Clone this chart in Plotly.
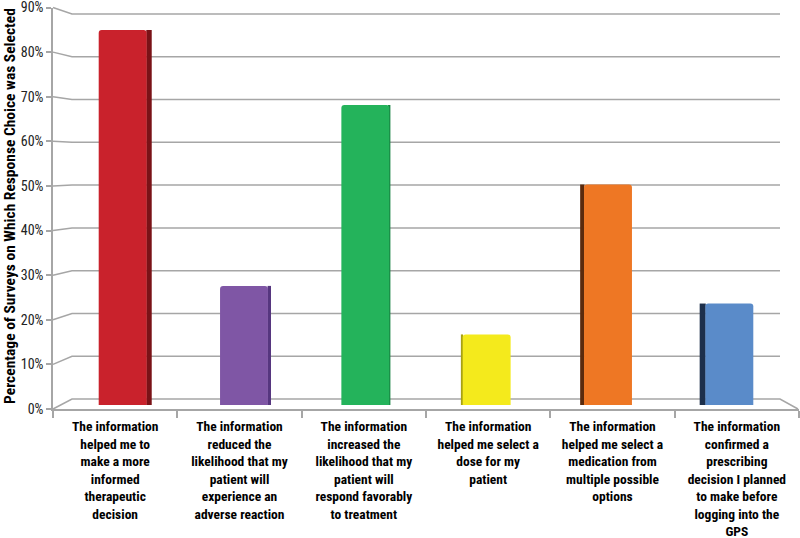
import plotly.graph_objects as go

categories = [
    "The information<br>helped me to<br>make a more<br>informed<br>therapeutic<br>decision",
    "The information<br>reduced the<br>likelihood that my<br>patient will<br>experience an<br>adverse reaction",
    "The information<br>increased the<br>likelihood that my<br>patient will<br>respond favorably<br>to treatment",
    "The information<br>helped me select a<br>dose for my<br>patient",
    "The information<br>helped me select a<br>medication from<br>multiple possible<br>options",
    "The information<br>confirmed a<br>prescribing<br>decision I planned<br>to make before<br>logging into the<br>GPS",
]
values = [85, 27, 68, 16, 50, 23]
y_ticks = [0, 10, 20, 30, 40, 50, 60, 70, 80, 90]
y_tick_labels = ["0%", "10%", "20%", "30%", "40%", "50%", "60%", "70%", "80%", "90%"]
y_title = "Percentage of Surveys on Which Response Choice was Selected"

# styles
face_colors = ["#C9222C", "#7F56A5", "#24B35B", "#F4EA1C", "#EE7724", "#5A8BC9"]
side_colors = ["#7A1217", "#56367F", "#178241", "#A8A112", "#5A2A0D", "#1D2F4B"]
side_widths = [0.045, 0.028, 0.012, 0.018, 0.035, 0.05]
side_on_right = [True, True, True, False, False, False]
BAR_W = 0.395

W, H = 800, 538
def px(x):
    return x / W
def py(y):
    return 1 - y / H

FONT = "Liberation Sans Narrow, Arial Narrow, Roboto Condensed, Liberation Sans, sans-serif"
CAT_RANGE = [-0.5, len(categories) - 0.5]

fig = go.Figure()

# side faces
side_offsets = []
for i in range(len(values)):
    if side_on_right[i]:
        side_offsets.append(BAR_W / 2 - 0.003)
    else:
        side_offsets.append(-BAR_W / 2 - side_widths[i] + 0.003)
fig.add_trace(go.Bar(
    x=categories, y=values, xaxis="x2", yaxis="y",
    width=side_widths, offset=side_offsets,
    marker=dict(color=side_colors, line=dict(width=0)),
    hoverinfo="skip", showlegend=False,
))
# front faces
fig.add_trace(go.Bar(
    x=categories, y=values, xaxis="x2", yaxis="y",
    width=[BAR_W] * len(values), offset=[-BAR_W / 2] * len(values),
    marker=dict(color=face_colors, line=dict(width=0), cornerradius=3),
    hovertemplate="%{y}%<extra></extra>", showlegend=False,
))
# invisible trace for front axes
fig.add_trace(go.Scatter(
    x=categories, y=[0] * len(categories), xaxis="x", yaxis="y2",
    mode="markers", marker=dict(opacity=0), hoverinfo="skip", showlegend=False,
))

# perspective gridlines (back wall) + floor
FRONT_TOP = 7.5
yf = lambda v: 409 - v * ((409 - FRONT_TOP) / 90)   # front axis pixel
yb = lambda v: 399 - v * (385.0 / 90)               # back wall pixel
shapes = []
for v in y_ticks:
    path = f"M {px(53)},{py(yf(v))} L {px(72)},{py(yb(v))} L {px(780)},{py(yb(v))}"
    if v == 0:
        path += f" L {px(798)},{py(yf(v))}"
    shapes.append(dict(type="path", path=path, xref="paper", yref="paper",
                       line=dict(color="#A6A6A6", width=1.5), layer="below"))

fig.update_layout(
    width=W, height=H,
    margin=dict(l=0, r=0, t=0, b=0, autoexpand=False),
    paper_bgcolor="white", plot_bgcolor="rgba(0,0,0,0)",
    barmode="overlay",
    shapes=shapes,
    xaxis=dict(
        domain=[px(53), px(799)], anchor="y2", type="category", range=CAT_RANGE,
        showline=True, linecolor="#A6A6A6", linewidth=1.5,
        ticks="outside", tickson="boundaries", ticklen=7, tickcolor="#A6A6A6", tickwidth=1.5,
        tickfont=dict(family=FONT, size=13.5, color="black", weight="bold"),
        ticklabelstandoff=4, ticklabeloverflow="allow",
        showgrid=False, zeroline=False, fixedrange=True, automargin=False,
    ),
    xaxis2=dict(
        domain=[px(62), px(790)], anchor="y", type="category", range=CAT_RANGE,
        visible=False, fixedrange=True, automargin=False,
    ),
    yaxis=dict(
        domain=[py(405), py(8)], anchor="x2", range=[0, 90],
        visible=False, fixedrange=True, automargin=False,
    ),
    yaxis2=dict(
        domain=[py(409), py(FRONT_TOP)], anchor="x", range=[0, 90],
        tickvals=y_ticks, ticktext=y_tick_labels, ticklabeloverflow="allow",
        showline=True, linecolor="#A6A6A6", linewidth=1.5,
        ticks="outside", ticklen=5, tickcolor="#A6A6A6", tickwidth=1.5,
        tickfont=dict(family=FONT, size=14, color="#222"),
        showgrid=False, zeroline=False, fixedrange=True, automargin=False,
    ),
    annotations=[dict(
        text=y_title, xref="paper", yref="paper", x=px(10), y=py(206),
        textangle=-90, showarrow=False, xanchor="center", yanchor="middle",
        font=dict(family=FONT, size=15.5, color="black", weight="bold"),
    )],
)

fig.write_html(
    "out.html",
    config={"displayModeBar": False},
    post_script="document.body.style.margin='0';document.body.style.overflow='hidden';",
)
